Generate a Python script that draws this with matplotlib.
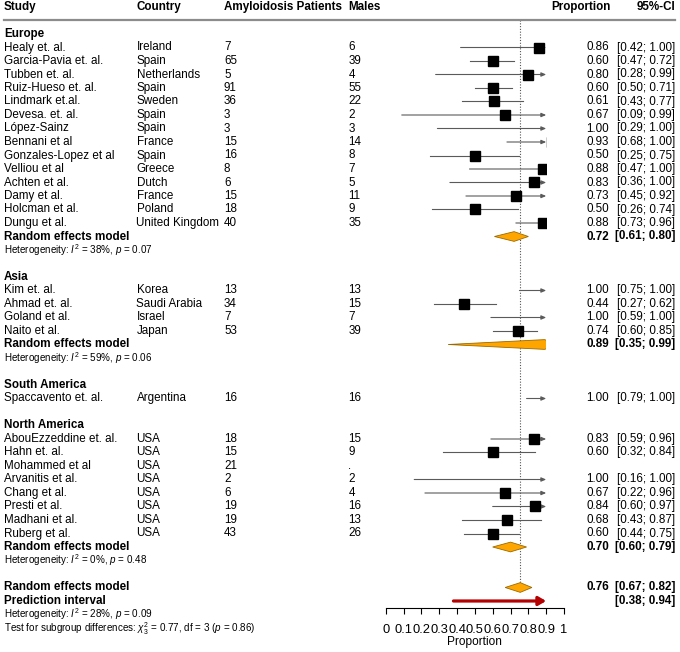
import numpy as np
import matplotlib
matplotlib.use("Agg")
import matplotlib.pyplot as plt
from matplotlib.patches import Polygon, Rectangle
from matplotlib.transforms import blended_transform_factory

plt.rcParams["font.family"] = "Liberation Sans"
plt.rcParams["mathtext.fontset"] = "custom"
plt.rcParams["mathtext.rm"] = "Liberation Sans"
plt.rcParams["mathtext.it"] = "Liberation Sans:italic"

# ── Study data ────────────────────────────────────────────────────────────────
region = (["Europe"] * 14 + ["Asia"] * 4 + ["South America"] * 1
          + ["North America"] * 8)
study = [
    "Healy et. al.", "Garcia-Pavia et. al.", "Tubben et. al.", "Ruiz-Hueso et. al.",
    "Lindmark et.al.", "Devesa. et. al.", "López-Sainz", "Bennani et al",
    "Gonzales-Lopez et al", "Velliou et al", "Achten et al.", "Damy et al.",
    "Holcman et al.", "Dungu et al.",
    "Kim et. al.", "Ahmad et. al.", "Goland et al.", "Naito et al.",
    "Spaccavento et. al.",
    "AbouEzzeddine et. al.", "Hahn et. al.", "Mohammed et al", "Arvanitis et al.",
    "Chang et al.", "Presti et al.", "Madhani et al.", "Ruberg et al.",
]
country = [
    "Ireland", "Spain", "Netherlands", "Spain", "Sweden", "Spain", "Spain",
    "France", "Spain", "Greece", "Dutch", "France", "Poland", "United Kingdom",
    "Korea", "Saudi Arabia", "Israel", "Japan",
    "Argentina",
    "USA", "USA", "USA", "USA", "USA", "USA", "USA", "USA",
]
patients = [7, 65, 5, 91, 36, 3, 3, 15, 16, 8, 6, 15, 18, 40,
            13, 34, 7, 53,
            16,
            18, 15, 21, 2, 6, 19, 19, 43]
males = ["6", "39", "4", "55", "22", "2", "3", "14", "8", "7", "5", "11", "9", "35",
         "13", "15", "7", "39",
         "16",
         "15", "9", ".", "2", "4", "16", "13", "26"]
prop = [0.86, 0.60, 0.80, 0.60, 0.61, 0.67, 1.00, 0.93, 0.50, 0.88, 0.83, 0.73, 0.50, 0.88,
        1.00, 0.44, 1.00, 0.74,
        1.00,
        0.83, 0.60, np.nan, 1.00, 0.67, 0.84, 0.68, 0.60]
ci_low = [0.42, 0.47, 0.28, 0.50, 0.43, 0.09, 0.29, 0.68, 0.25, 0.47, 0.36, 0.45, 0.26, 0.73,
          0.75, 0.27, 0.59, 0.60,
          0.79,
          0.59, 0.32, np.nan, 0.16, 0.22, 0.60, 0.43, 0.44]
ci_high = [1.00, 0.72, 0.99, 0.71, 0.77, 0.99, 1.00, 1.00, 0.75, 1.00, 1.00, 0.92, 0.74, 0.96,
           1.00, 0.62, 1.00, 0.85,
           1.00,
           0.96, 0.84, np.nan, 1.00, 0.96, 0.97, 0.87, 0.75]

# ── Subgroup / overall summaries ──────────────────────────────────────────────
groups = ["Europe", "Asia", "South America", "North America"]
group_est = [0.72, 0.89, np.nan, 0.70]
group_low = [0.61, 0.35, np.nan, 0.60]
group_high = [0.80, 0.99, np.nan, 0.79]
group_i2 = [38, 59, None, 0]
group_p = [0.07, 0.06, None, 0.48]

overall_est, overall_low, overall_high = 0.7545, 0.67, 0.82
overall_label = "0.76"
pred_low, pred_high = 0.38, 0.94
overall_i2, overall_p = 28, 0.09
subgroup_chi2, subgroup_df, subgroup_p = 0.77, 3, 0.86

tick_values = np.round(np.arange(0, 1.01, 0.1), 1)
tick_labels = ["0", "0.1", "0.2", "0.3", "0.4", "0.5", "0.6", "0.7", "0.8", "0.9", "1"]

# ── Layout constants ──────────────────────────────────────────────────────────
W, H = 680, 652
ROW0_PX, ROW_PX = 34.0, 13.5          # pixel y of first row and row spacing
XCLIP = 0.9                            # right limit of the drawn interval area
FS = 8.4
FS_SMALL = 7.1
DIAMOND_H = 0.36
LINE_COL = "#5a5a5a"

fig = plt.figure(figsize=(W / 100, H / 100), dpi=100)
ax = fig.add_axes([385.7 / W, 0, 178.3 / W, 1])
ax.set_xlim(0, 1)
ax.set_ylim((H - ROW0_PX) / ROW_PX, -ROW0_PX / ROW_PX)
ax.patch.set_visible(False)

tr = blended_transform_factory(fig.transFigure, ax.transData)
clip = Rectangle((0, -10), XCLIP, 100, transform=ax.transData)

col_study = 4 / W
col_country = 136.5 / W
col_n = 224 / W
col_males = 348.5 / W
col_prop = 609 / W
col_ci = 675 / W


def txt(x, y, s, **kw):
    kw.setdefault("fontsize", FS)
    kw.setdefault("va", "center")
    ax.text(x, y, s, transform=tr, clip_on=False, **kw)


def diamond(y, est, lo, hi):
    poly = Polygon([(lo, y), (est, y - DIAMOND_H), (hi, y), (est, y + DIAMOND_H)],
                   closed=True, facecolor="#FFA500", edgecolor="#9a6a00", lw=0.6, zorder=4)
    ax.add_patch(poly)
    poly.set_clip_path(clip)


def interval(y, est, lo, hi):
    if np.isnan(est):
        return
    if hi > XCLIP:
        ax.annotate("", xy=(XCLIP, y), xytext=(lo, y),
                    arrowprops=dict(arrowstyle="-|>,head_length=0.35,head_width=0.15",
                                    color=LINE_COL, lw=0.8, shrinkA=0, shrinkB=0,
                                    mutation_scale=8))
    else:
        ax.plot([lo, hi], [y, y], color=LINE_COL, lw=0.8, zorder=2)
    sq, = ax.plot([est], [y], marker="s", ms=6.6, color="black", ls="none", zorder=3)
    sq.set_clip_path(clip)


# ── Header ────────────────────────────────────────────────────────────────────
hy = -2
txt(col_study, hy, "Study", fontweight="bold")
txt(col_country, hy, "Country", fontweight="bold")
txt(col_n, hy, "Amyloidosis Patients", fontweight="bold")
txt(col_males, hy, "Males", fontweight="bold")
txt(611 / W, hy, "Proportion", fontweight="bold", ha="right")
txt(col_ci, hy, "95%-CI", fontweight="bold", ha="right")
ax.plot([col_study, col_ci], [-1.05, -1.05], transform=tr, clip_on=False,
        color="#8c8c8c", lw=1.6)

# ── Body ──────────────────────────────────────────────────────────────────────
row = 0
for g, gest, glo, ghi, gi2, gp in zip(groups, group_est, group_low, group_high,
                                      group_i2, group_p):
    txt(col_study, row, g, fontweight="bold")
    row += 1
    idx = [i for i, r in enumerate(region) if r == g]
    for i in idx:
        txt(col_study, row, study[i])
        txt(col_country, row, country[i])
        txt(col_n, row, str(patients[i]))
        txt(col_males, row, males[i])
        if not np.isnan(prop[i]):
            txt(col_prop, row, f"{prop[i]:.2f}", ha="right")
            txt(col_ci, row, f"[{ci_low[i]:.2f}; {ci_high[i]:.2f}]", ha="right")
        interval(row, prop[i], ci_low[i], ci_high[i])
        row += 1
    if len(idx) > 1:
        txt(col_study, row, "Random effects model", fontweight="bold")
        txt(col_prop, row, f"{gest:.2f}", ha="right", fontweight="bold")
        txt(col_ci, row, f"[{glo:.2f}; {ghi:.2f}]", ha="right", fontweight="bold")
        diamond(row, gest, glo, ghi)
        row += 1
        txt(col_study, row, rf"Heterogeneity: $I^2$ = {gi2}%, $p$ = {gp:.2f}",
            fontsize=FS_SMALL)
        row += 1
    row += 1

# ── Overall ───────────────────────────────────────────────────────────────────
txt(col_study, row, "Random effects model", fontweight="bold")
txt(col_prop, row, overall_label, ha="right", fontweight="bold")
txt(col_ci, row, f"[{overall_low:.2f}; {overall_high:.2f}]", ha="right", fontweight="bold")
diamond(row, overall_est, overall_low, overall_high)
ax.plot([overall_est, overall_est], [-1.05, row - DIAMOND_H], color="#555555",
        lw=0.8, ls=(0, (1, 1.5)), zorder=1)
row += 1

txt(col_study, row, "Prediction interval", fontweight="bold")
txt(col_ci, row, f"[{pred_low:.2f}; {pred_high:.2f}]", ha="right", fontweight="bold")
ax.annotate("", xy=(min(pred_high, XCLIP), row), xytext=(pred_low, row),
            arrowprops=dict(arrowstyle="-|>,head_length=0.55,head_width=0.32",
                            color="#b40000", lw=2.3, shrinkA=0, shrinkB=0,
                            mutation_scale=8))
row += 1
txt(col_study, row - 0.05, rf"Heterogeneity: $I^2$ = {overall_i2}%, $p$ = {overall_p:.2f}",
    fontsize=FS_SMALL)
row += 1
txt(col_study, row + 0.05,
    rf"Test for subgroup differences: $\chi^2_{subgroup_df}$ = {subgroup_chi2:.2f}, "
    rf"df = {subgroup_df} ($p$ = {subgroup_p:.2f})", fontsize=FS_SMALL)

# ── Axis ──────────────────────────────────────────────────────────────────────
for s in ["top", "left", "right"]:
    ax.spines[s].set_visible(False)
ax.spines["bottom"].set_position(("data", (608.3 - ROW0_PX) / ROW_PX))
ax.spines["bottom"].set_bounds(0, 1)
ax.spines["bottom"].set_linewidth(0.8)
ax.set_yticks([])
ax.set_xticks(tick_values)
ax.set_xticklabels(tick_labels)
ax.tick_params(axis="x", direction="out", length=4, width=0.8, pad=7, labelsize=9.3)
ax.set_xlabel("Proportion", fontsize=8.6, labelpad=0)

fig.savefig("out.png", dpi=100)
